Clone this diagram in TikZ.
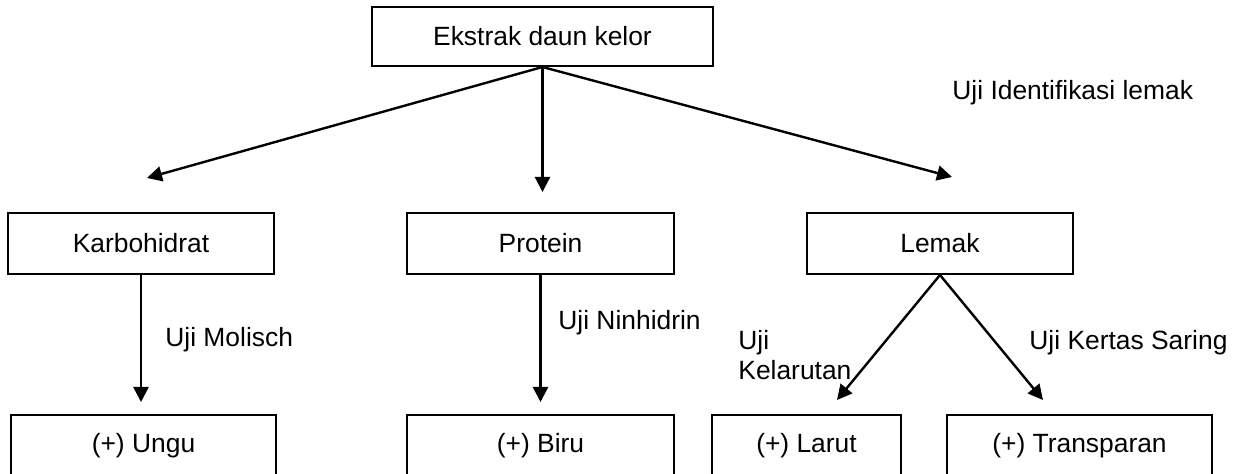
\documentclass[tikz,border=0pt]{standalone}
\usepackage{fontspec}
\setmainfont{Liberation Sans}
\usetikzlibrary{arrows.meta}

\tikzset{
  kotak/.style={draw, line width=1pt, inner sep=0pt, font=\fontsize{13.2}{15}\selectfont},
  teks/.style={anchor=west, inner sep=0pt, font=\fontsize{13.2}{15}\selectfont},
  panah/.style={line width=1.2pt, -{Triangle[width=7.5pt,length=7.5pt]}}
}

\begin{document}
\begin{tikzpicture}[x=0.5pt,y=0.5pt,yscale=-1]
\useasboundingbox (0,0) rectangle (1244,474);

% Kotak atas
\node [kotak, minimum width=170.5pt, minimum height=29.5pt] (atas) at (542.5,36.5) {Ekstrak daun kelor};

% Kotak tengah
\node [kotak, minimum width=133pt, minimum height=30.5pt] (karbo) at (141,243.5) {Karbohidrat};
\node [kotak, minimum width=133.5pt, minimum height=30.5pt] (prot) at (540.5,243.5) {Protein};
\node [kotak, minimum width=133pt, minimum height=30.5pt] (lemak) at (940,243.5) {Lemak};

% Kotak hasil
\node [kotak, minimum width=132.5pt, minimum height=31pt] (ungu) at (143.5,446) {(+) Ungu};
\node [kotak, minimum width=133.5pt, minimum height=31pt] (biru) at (540.5,446) {(+) Biru};
\node [kotak, minimum width=94.5pt, minimum height=31pt] (larut) at (806.5,446) {(+) Larut};
\node [kotak, minimum width=132.5pt, minimum height=31pt] (trans) at (1079.5,446) {(+) Transparan};

% Ujung panah
\coordinate (ujungK) at (147,178);
\coordinate (ujungP) at (542.5,192);
\coordinate (ujungL) at (952,177);
\coordinate (ujungB) at (0,402);
\coordinate (ujungLa) at (837,400);
\coordinate (ujungTr) at (1043,400);

% Panah
\draw [panah] (atas.south) -- (ujungK);
\draw [panah] (atas.south) -- (ujungP);
\draw [panah] (atas.south) -- (ujungL);
\draw [panah] (karbo.south) -- (karbo.south |- ujungB);
\draw [panah] (prot.south) -- (prot.south |- ujungB);
\draw [panah] (lemak.south) -- (ujungLa);
\draw [panah] (lemak.south) -- (ujungTr);

% Keterangan uji
\node [teks] (molisch) at (165,340) {Uji Molisch};
\node [teks] (ninhidrin) at (558,323) {Uji Ninhidrin};
\node [teks, align=left] (kelarutan) at (738,355) {Uji\\Kelarutan};
\node [teks] (kertas) at (1029,343) {Uji Kertas Saring};
\node [teks] (identifikasi) at (952,93) {Uji Identifikasi lemak};

\end{tikzpicture}
\end{document}
